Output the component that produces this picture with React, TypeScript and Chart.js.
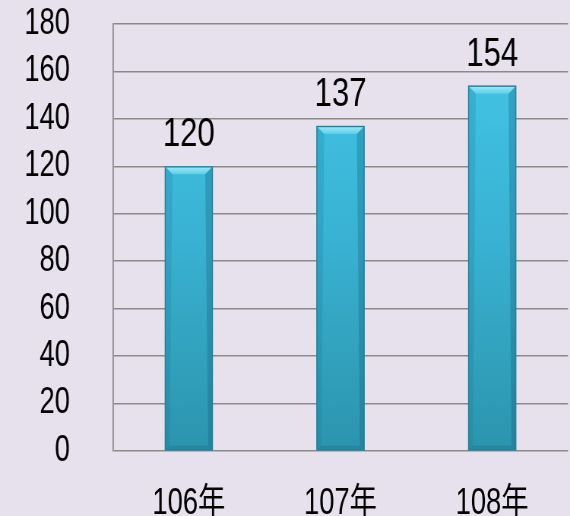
import React, { useEffect, useRef } from "react";
import { Chart, registerables } from "chart.js";

Chart.register(...registerables);

const categories = ["106年", "107年", "108年"];
const values = [120, 137, 154];
const yTicks = [0, 20, 40, 60, 80, 100, 120, 140, 160, 180];

// horizontal compression to imitate a narrow typeface
const K = 0.76;
const W = 570;
const H = 516;
const CW = Math.round(W / K);

const FONT = '"Liberation Sans", Arial, "Noto Sans CJK TC", sans-serif';

const bevelPlugin = {
  id: "bevel",
  afterDatasetsDraw(chart: any) {
    const ctx = chart.ctx;
    const meta = chart.getDatasetMeta(0);
    meta.data.forEach((bar: any, i: number) => {
      const { x, y, base, width } = bar.getProps(["x", "y", "base", "width"], true);
      const l = x - width / 2;
      const r = x + width / 2;
      const bx = 10;
      const by = 8;
      ctx.save();
      const tg = ctx.createLinearGradient(0, y, 0, y + by);
      tg.addColorStop(0, "#A4E9F8");
      tg.addColorStop(1, "#5CD0EC");
      ctx.fillStyle = tg;
      ctx.beginPath();
      ctx.moveTo(l, y);
      ctx.lineTo(r, y);
      ctx.lineTo(r - bx, y + by);
      ctx.lineTo(l + bx, y + by);
      ctx.closePath();
      ctx.fill();
      ctx.fillStyle = "rgba(20,110,140,0.2)";
      ctx.beginPath();
      ctx.moveTo(l, y);
      ctx.lineTo(l + bx, y + by);
      ctx.lineTo(l + bx * 0.6, base - by * 0.6);
      ctx.lineTo(l, base);
      ctx.closePath();
      ctx.fill();
      ctx.fillStyle = "rgba(20,90,120,0.3)";
      ctx.beginPath();
      ctx.moveTo(r, y);
      ctx.lineTo(r - bx, y + by);
      ctx.lineTo(r - bx * 0.6, base - by * 0.6);
      ctx.lineTo(r, base);
      ctx.closePath();
      ctx.fill();
      ctx.fillStyle = "rgba(20,90,110,0.22)";
      ctx.beginPath();
      ctx.moveTo(l, base);
      ctx.lineTo(r, base);
      ctx.lineTo(r - bx * 0.6, base - by * 0.6);
      ctx.lineTo(l + bx * 0.6, base - by * 0.6);
      ctx.closePath();
      ctx.fill();
      ctx.strokeStyle = "#2B7E93";
      ctx.lineWidth = 1.4;
      ctx.strokeRect(l + 0.5, y + 0.5, width - 1, base - y - 1);
      ctx.fillStyle = "#000";
      ctx.font = `41px ${FONT}`;
      ctx.textAlign = "center";
      ctx.textBaseline = "alphabetic";
      ctx.fillText(String(values[i]), x, y - 20);
      ctx.restore();
    });
  },
};

export default function App() {
  const ref = useRef<HTMLCanvasElement>(null);
  useEffect(() => {
    document.body.style.margin = "0";
    const axisLeft = 113 / K;
    const chart = new Chart(ref.current as HTMLCanvasElement, {
      type: "bar",
      data: {
        labels: categories,
        datasets: [
          {
            data: values,
            backgroundColor: (c: any) => {
              const area = c.chart.chartArea;
              if (!area) return "#3AB5D6";
              const g = c.chart.ctx.createLinearGradient(0, area.top, 0, area.bottom);
              g.addColorStop(0, "#45C8E9");
              g.addColorStop(0.5, "#39B2D3");
              g.addColorStop(1, "#2C94AD");
              return g;
            },
            borderWidth: 0,
            barPercentage: 0.316,
            categoryPercentage: 1,
          },
        ],
      },
      options: {
        animation: false,
        responsive: false,
        maintainAspectRatio: false,
        devicePixelRatio: 1,
        layout: { padding: { top: 24, right: 2 / K, bottom: 0, left: 0 } },
        plugins: { legend: { display: false }, tooltip: { enabled: false } },
        scales: {
          x: {
            grid: { display: false },
            border: { display: false },
            ticks: {
              color: "#000",
              font: { family: FONT, size: 36 },
              padding: 23,
              autoSkip: false,
              maxRotation: 0,
              minRotation: 0,
            },
            afterFit: (s: any) => {
              s.height = 65;
              s.paddingLeft = 0;
              s.paddingRight = 0;
            },
          },
          y: {
            min: 0,
            max: 180,
            afterBuildTicks: (s: any) => {
              s.ticks = yTicks.map((v) => ({ value: v }));
            },
            grid: { color: "#8A8A8A", lineWidth: 1.5, drawTicks: false },
            border: { display: true, color: "#8A8A8A", width: 1.8 },
            ticks: {
              color: "#000",
              font: { family: FONT, size: 36 },
              padding: (113 - 70) / K,
              autoSkip: false,
            },
            afterFit: (s: any) => {
              s.width = axisLeft;
              s.paddingTop = 0;
              s.paddingBottom = 0;
            },
          },
        },
      },
      plugins: [bevelPlugin],
    });
    return () => chart.destroy();
  }, []);
  return (
    <div style={{ position: "absolute", left: 0, top: 0, width: W, height: H, overflow: "hidden", background: "#E6E1EC" }}>
      <canvas
        ref={ref}
        width={CW}
        height={H}
        style={{ width: CW, height: H, display: "block", transform: `scaleX(${K})`, transformOrigin: "0 0" }}
      />
    </div>
  );
}
